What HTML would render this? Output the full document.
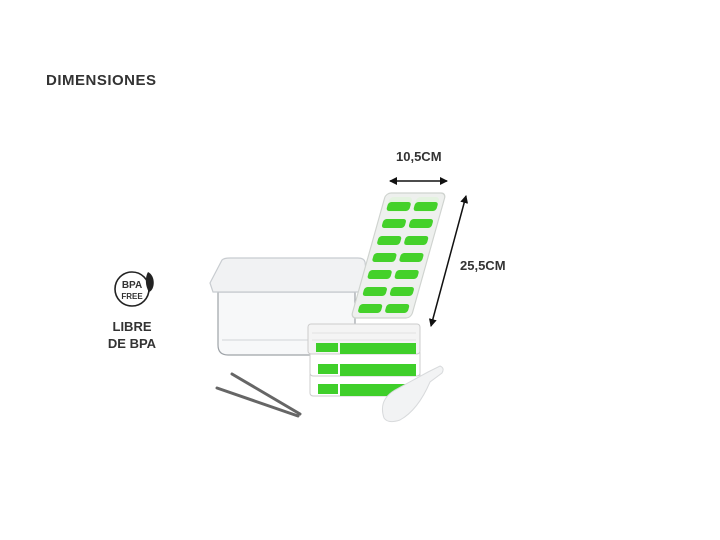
<!DOCTYPE html>
<html><head><style>
html,body{margin:0;padding:0;background:#fff;}
svg{display:block;}
text{font-family:"Liberation Sans",sans-serif;font-weight:bold;fill:#333;}
</style></head><body>
<svg width="720" height="540" viewBox="0 0 720 540" xmlns="http://www.w3.org/2000/svg">
<defs>
<marker id="a" markerWidth="8" markerHeight="8" refX="7" refY="4" orient="auto-start-reverse" markerUnits="userSpaceOnUse"><path d="M0,0 L8,4 L0,8 z" fill="#111"/></marker>
</defs>
<text x="46" y="85" font-size="15" letter-spacing="0.5">DIMENSIONES</text>
<circle cx="132" cy="289" r="17" fill="none" stroke="#222" stroke-width="1.6"/>
<text x="132" y="288" font-size="10" text-anchor="middle" fill="#222">BPA</text>
<text x="132" y="299" font-size="8" text-anchor="middle" fill="#222">FREE</text>
<path d="M148,272 C156,276 155,290 149,292 C145,286 145,277 148,272 z" fill="#222"/>
<text x="132" y="331" font-size="13" text-anchor="middle" fill="#222">LIBRE</text>
<text x="132" y="348" font-size="13" text-anchor="middle" fill="#222">DE BPA</text>
<text x="396" y="161" font-size="13">10,5CM</text>
<text x="460" y="270" font-size="13">25,5CM</text>
<line x1="390" y1="181" x2="447" y2="181" stroke="#111" stroke-width="1.5" marker-start="url(#a)" marker-end="url(#a)"/>
<line x1="466" y1="196" x2="431" y2="326" stroke="#111" stroke-width="1.5" marker-start="url(#a)" marker-end="url(#a)"/>
<!-- container -->
<path d="M218,292 L355,292 L355,345 Q355,355 345,355 L228,355 Q218,355 218,345 z" fill="#f7f8f9" stroke="#9ea3a8" stroke-width="1.2"/>
<path d="M222,340 L352,340" stroke="#d0d3d6"/>
<path d="M210,283 L222,260 Q224,258 230,258 L358,258 Q364,258 365,262 L368,285 L365,292 L213,292 z" fill="#f1f2f3" stroke="#c8ccd0" stroke-width="1.2"/>
<!-- stacked trays -->
<g>
<rect x="310" y="372" width="110" height="24" rx="3" fill="#fff" stroke="#ccc"/>
<rect x="340" y="384" width="76" height="12" fill="#3fcf2a"/>
<rect x="318" y="384" width="20" height="10" fill="#3fcf2a"/>
<rect x="310" y="350" width="110" height="26" rx="3" fill="#fff" stroke="#ccc"/>
<rect x="340" y="364" width="76" height="12" fill="#3fcf2a"/>
<rect x="318" y="364" width="20" height="10" fill="#3fcf2a"/>
<rect x="308" y="324" width="112" height="30" rx="3" fill="#f4f4f4" stroke="#ccc"/>
<rect x="340" y="343" width="76" height="11" fill="#3fcf2a"/>
<rect x="316" y="343" width="22" height="9" fill="#3fcf2a"/>
<path d="M312,333 L416,333 M312,340 L416,340" stroke="#e2e2e2"/>
</g>
<!-- vertical tray -->
<g transform="matrix(1,0,-0.28,1,386,193)">
<rect x="0" y="0" width="60" height="125" rx="5" fill="#eef0ee" stroke="#cfd3cf" stroke-width="1.2"/>
<g fill="#e4f3e0">
<rect x="5" y="4" width="23" height="15" rx="4"/><rect x="32" y="4" width="23" height="15" rx="4"/>
</g>
<g fill="#44d12a">
<rect x="5" y="9" width="23" height="9" rx="3"/><rect x="32" y="9" width="23" height="9" rx="3"/>
<rect x="5" y="26" width="23" height="9" rx="3"/><rect x="32" y="26" width="23" height="9" rx="3"/>
<rect x="5" y="43" width="23" height="9" rx="3"/><rect x="32" y="43" width="23" height="9" rx="3"/>
<rect x="5" y="60" width="23" height="9" rx="3"/><rect x="32" y="60" width="23" height="9" rx="3"/>
<rect x="5" y="77" width="23" height="9" rx="3"/><rect x="32" y="77" width="23" height="9" rx="3"/>
<rect x="5" y="94" width="23" height="9" rx="3"/><rect x="32" y="94" width="23" height="9" rx="3"/>
<rect x="5" y="111" width="23" height="9" rx="3"/><rect x="32" y="111" width="23" height="9" rx="3"/>
</g>
</g>
<!-- tongs -->
<path d="M232,374 L300,414 M217,388 L298,416" stroke="#666" stroke-width="3" fill="none" stroke-linecap="round"/>
<!-- scoop -->
<path d="M384,418 Q378,400 395,390 L428,372 L440,366 Q445,368 442,373 L430,382 Q418,410 400,420 Q388,424 384,418 z" fill="#f2f3f4" stroke="#d8dadc"/>
</svg>
</body></html>
